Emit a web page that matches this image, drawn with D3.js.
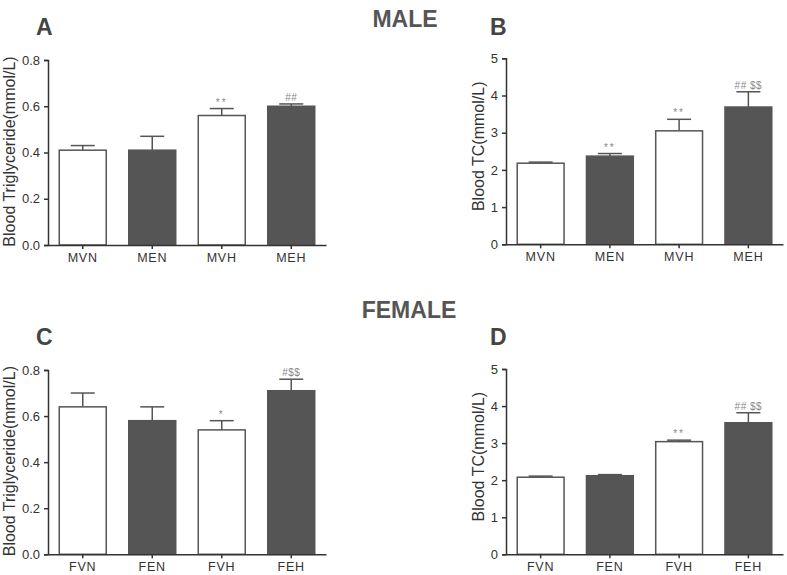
<!DOCTYPE html>
<html><head><meta charset="utf-8">
<script src="https://cdn.jsdelivr.net/npm/d3@7"></script>
<style>body{margin:0;background:#fff}svg{display:block}text{font-family:"Liberation Sans",Arial,sans-serif}</style>
</head><body><svg id="c" width="787" height="575"></svg>
<script>
// Data
const catsMale = ["MVN","MEN","MVH","MEH"];
const catsFemale = ["FVN","FEN","FVH","FEH"];
const tgMale = [0.41, 0.41, 0.56, 0.60];
const tgMaleErr = [0.43, 0.47, 0.59, 0.61];
const tgMaleSig = ["", "", "**", "##"];
const tcMale = [2.18, 2.37, 3.05, 3.69];
const tcMaleErr = [2.21, 2.44, 3.36, 4.10];
const tcMaleSig = ["", "**", "**", "## $$"];
const tgFemale = [0.64, 0.58, 0.54, 0.71];
const tgFemaleErr = [0.70, 0.64, 0.58, 0.76];
const tgFemaleSig = ["", "", "*", "#$$"];
const tcFemale = [2.08, 2.12, 3.04, 3.55];
const tcFemaleErr = [2.11, 2.15, 3.08, 3.82];
const tcFemaleSig = ["", "", "**", "## $$"];
const tgTicks = [0, 0.2, 0.4, 0.6, 0.8];
const tcTicks = [0, 1, 2, 3, 4, 5];
const barFills = ["#fff", "#555", "#fff", "#555"];

const svg = d3.select("#c");
const gray = "#555";

function panel(o){
  const g = svg.append("g");
  const x = d3.scaleBand().domain(o.cats).range([o.x0, o.x1]).paddingInner(0.324).paddingOuter(0.162);
  const y = d3.scaleLinear().domain([0, o.max]).range([o.yb, o.yt]);
  g.selectAll("rect.bar").data(o.vals).join("rect")
    .attr("x", (d,i)=>x(o.cats[i])).attr("width", x.bandwidth())
    .attr("y", d=>y(d)).attr("height", d=>y(0)-y(d))
    .attr("fill", (d,i)=>barFills[i]).attr("stroke", gray).attr("stroke-width", 1.5);
  const cw = 12;
  o.errs.forEach((e,i)=>{
    const cx = x(o.cats[i]) + x.bandwidth()/2;
    g.append("line").attr("x1",cx).attr("x2",cx).attr("y1",y(o.vals[i])).attr("y2",y(e)).attr("stroke",gray).attr("stroke-width",1.5);
    g.append("line").attr("x1",cx-cw).attr("x2",cx+cw).attr("y1",y(e)).attr("y2",y(e)).attr("stroke",gray).attr("stroke-width",1.5);
    if(o.sig[i]) g.append("text").attr("x",cx).attr("y",y(e)-3).attr("text-anchor","middle")
      .attr("font-size",10).attr("fill","#888").attr("letter-spacing",o.sig[i].indexOf("*")>=0?2:0.5).text(o.sig[i]);
  });
  const ya = d3.axisLeft(y).tickValues(o.ticks).tickSize(4).tickPadding(4).tickFormat(o.fmt);
  const gy = g.append("g").attr("transform",`translate(${o.x0},0)`).call(ya);
  gy.select(".domain").attr("stroke","#333").attr("stroke-width",1.5);
  gy.selectAll(".tick line").attr("stroke","#333").attr("stroke-width",1.5);
  gy.selectAll(".tick text").attr("font-size",13).attr("fill","#333").attr("font-family","Liberation Sans, Arial, sans-serif");
  const xa = d3.axisBottom(x).tickSize(4).tickSizeOuter(0).tickPadding(4);
  const gx = g.append("g").attr("transform",`translate(0,${o.yb})`).call(xa);
  gx.select(".domain").attr("stroke","#333").attr("stroke-width",1.5);
  gx.selectAll(".tick line").attr("stroke","#333").attr("stroke-width",1.5);
  gx.selectAll(".tick text").attr("font-size",12.5).attr("fill","#333").attr("letter-spacing",0.8).attr("font-family","Liberation Sans, Arial, sans-serif");
  g.append("text").attr("transform",`translate(${o.lx},${(o.yt+o.yb)/2 + o.ly}) rotate(-90)`)
    .attr("text-anchor","middle").attr("font-size",16).attr("fill","#333").text(o.label);
  g.append("text").attr("x",o.px).attr("y",o.py).attr("font-size",23).attr("font-weight","bold").attr("fill","#444").text(o.letter);
}

svg.append("text").attr("x",405).attr("y",27).attr("text-anchor","middle").attr("font-size",23).attr("font-weight","bold").attr("fill","#555").text("MALE");
svg.append("text").attr("x",409).attr("y",318).attr("text-anchor","middle").attr("font-size",23).attr("font-weight","bold").attr("fill","#555").text("FEMALE");

panel({cats:catsMale, vals:tgMale, errs:tgMaleErr, sig:tgMaleSig, x0:48, x1:326, yt:60, yb:245, max:0.8, ticks:tgTicks, fmt:d3.format(".1f"), label:"Blood Triglyceride(mmol/L)", lx:15, ly:-1, letter:"A", px:36, py:35});
panel({cats:catsMale, vals:tcMale, errs:tcMaleErr, sig:tcMaleSig, x0:506, x1:783, yt:58.3, yb:244.3, max:5, ticks:tcTicks, fmt:d3.format("d"), label:"Blood TC(mmol/L)", lx:484, ly:-5, letter:"B", px:490, py:35});
panel({cats:catsFemale, vals:tgFemale, errs:tgFemaleErr, sig:tgFemaleSig, x0:48, x1:326, yt:370, yb:554.3, max:0.8, ticks:tgTicks, fmt:d3.format(".1f"), label:"Blood Triglyceride(mmol/L)", lx:15, ly:-1, letter:"C", px:36, py:345});
panel({cats:catsFemale, vals:tcFemale, errs:tcFemaleErr, sig:tcFemaleSig, x0:506, x1:783, yt:369, yb:554.3, max:5, ticks:tcTicks, fmt:d3.format("d"), label:"Blood TC(mmol/L)", lx:484, ly:-5, letter:"D", px:490, py:345});
</script></body></html>
